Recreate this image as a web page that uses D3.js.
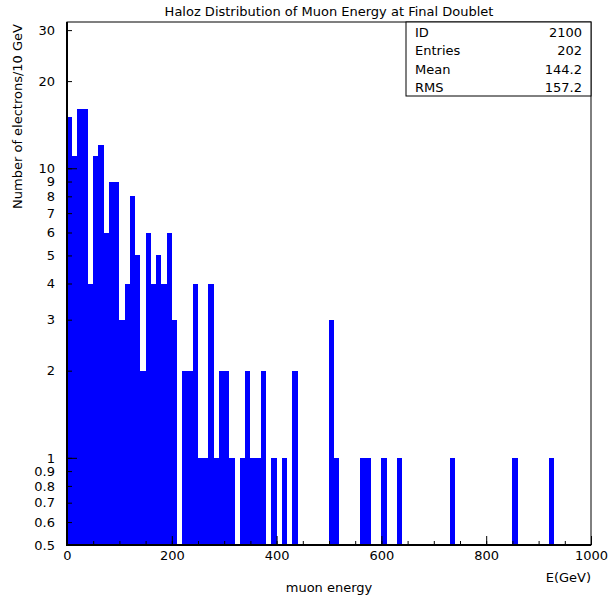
<!DOCTYPE html>
<meta charset="utf-8">
<style>
    body { margin: 0; background: #fff; }
    text { font-family: "DejaVu Sans", "Liberation Sans", sans-serif; fill: #000; }
    .axis path { display: none; }
    .axis line { stroke: #000; stroke-width: 1px; }
</style>
<svg width="616" height="600">
    <rect fill="#fff" width="100%" height="100%"></rect>
</svg>
<script src="https://cdn.jsdelivr.net/npm/d3@7"></script>
<script>

    // counts per 10 GeV bin, 0 -> 1000 GeV
    var counts = [
        15, 11, 16, 16, 4, 11, 12, 6, 9, 9,
        3, 4, 8, 5, 2, 6, 4, 5, 4, 6,
        3, 0, 2, 2, 4, 1, 1, 4, 1, 2,
        2, 1, 0, 1, 2, 1, 1, 2, 0, 1,
        0, 1, 0, 2, 0, 0, 0, 0, 0, 0,
        3, 1, 0, 0, 0, 0, 1, 1, 0, 0,
        1, 0, 0, 1, 0, 0, 0, 0, 0, 0,
        0, 0, 0, 1, 0, 0, 0, 0, 0, 0,
        0, 0, 0, 0, 0, 1, 0, 0, 0, 0,
        0, 0, 1, 0, 0, 0, 0, 0, 0, 0
    ];
    var binWidth = 10;
    var xDomain = [0, 1000];
    var yDomain = [0.5, 32];
    var xTickValues = [0, 200, 400, 600, 800, 1000];
    var xMinorValues = d3.range(0, 1001, 50);
    var yTickValues = [0.5, 0.6, 0.7, 0.8, 0.9, 1, 2, 3, 4, 5, 6, 7, 8, 9, 10, 20, 30];
    var yMajorValues = [1, 10];
    var statNames = ["ID", "Entries", "Mean", "RMS"];
    var statValues = ["2100", "202", "144.2", "157.2"];

    // plot frame (top is a reserved window property, so prefix these)
    var pLeft = 67, pRight = 591, pTop = 22, pBottom = 545;

    var svg = d3.select("svg");

    var x = d3.scaleLinear().domain(xDomain).range([pLeft, pRight]);
    var y = d3.scaleLog().domain(yDomain).range([pBottom, pTop]);

    // histogram bars, snapped to whole pixels so neighbours touch
    var bins = counts.map(function (c, i) { return {x0: i * binWidth, x1: (i + 1) * binWidth, n: c}; })
            .filter(function (d) { return d.n >= yDomain[0]; });

    svg.append("g").attr("shape-rendering", "crispEdges").selectAll("rect")
            .data(bins)
            .enter().append("rect")
            .attr("x", function (d) { return Math.round(x(d.x0)); })
            .attr("width", function (d) { return Math.round(x(d.x1)) - Math.round(x(d.x0)); })
            .attr("y", function (d) { return Math.round(y(d.n)); })
            .attr("height", function (d) { return pBottom - Math.round(y(d.n)); })
            .attr("fill", "#0000ff");

    // x axis, ticks pointing in
    svg.append("g").attr("class", "axis")
            .attr("transform", "translate(0," + pBottom + ")")
            .call(d3.axisBottom(x).tickValues(xMinorValues).tickSize(-4).tickFormat(""));
    svg.append("g").attr("class", "axis")
            .attr("transform", "translate(0," + pBottom + ")")
            .call(d3.axisBottom(x).tickValues(xTickValues).tickSize(-9).tickPadding(6).tickFormat(d3.format("d")))
            .selectAll("text").style("font-size", "13px").style("font-family", null);

    // y axis
    svg.append("g").attr("class", "axis")
            .attr("transform", "translate(" + pLeft + ",0)")
            .call(d3.axisLeft(y).tickValues(yTickValues).tickSize(-5).tickPadding(12).tickFormat(function (d) { return String(d); }))
            .selectAll("text").style("font-size", "13px").style("font-family", null);
    svg.append("g").attr("class", "axis")
            .attr("transform", "translate(" + pLeft + ",0)")
            .call(d3.axisLeft(y).tickValues(yMajorValues).tickSize(-10).tickFormat(""));

    // frame
    svg.append("rect")
            .attr("x", pLeft).attr("y", pTop)
            .attr("width", pRight - pLeft).attr("height", pBottom - pTop)
            .attr("fill", "none").attr("stroke", "#000").attr("stroke-width", 1);
    svg.append("line").attr("x1", pLeft).attr("x2", pLeft).attr("y1", pTop).attr("y2", pBottom + 1)
            .attr("stroke", "#000").attr("stroke-width", 2);
    svg.append("line").attr("x1", pLeft).attr("x2", pRight).attr("y1", pBottom).attr("y2", pBottom)
            .attr("stroke", "#000").attr("stroke-width", 2);

    // stats box
    var boxLeft = 406, rowH = 18.5;
    svg.append("rect")
            .attr("x", boxLeft).attr("y", pTop)
            .attr("width", pRight - boxLeft).attr("height", rowH * statNames.length)
            .attr("fill", "#fff").attr("stroke", "#000").attr("stroke-width", 1);
    var rows = svg.append("g").selectAll("g")
            .data(statNames)
            .enter().append("g")
            .attr("transform", function (d, i) { return "translate(0," + (pTop + rowH * (i + 1) - 4) + ")"; });
    rows.append("text").attr("x", boxLeft + 9).text(function (d) { return d; })
            .style("font-size", "13px");
    rows.append("text").attr("x", pRight - 9).attr("text-anchor", "end")
            .text(function (d, i) { return statValues[i]; })
            .style("font-size", "13px");

    // titles
    svg.append("text").attr("x", (pLeft + pRight) / 2).attr("y", 16)
            .attr("text-anchor", "middle").style("font-size", "13px")
            .text("Haloz Distribution of Muon Energy at Final Doublet");
    svg.append("text").attr("x", pRight).attr("y", 582)
            .attr("text-anchor", "end").style("font-size", "13px")
            .text("E(GeV)");
    svg.append("text").attr("x", (pLeft + pRight) / 2).attr("y", 592)
            .attr("text-anchor", "middle").style("font-size", "13px")
            .text("muon energy");
    svg.append("text").attr("transform", "translate(22,24) rotate(-90)")
            .attr("text-anchor", "end").style("font-size", "13px")
            .text("Number of electrons/10 GeV");

</script>
